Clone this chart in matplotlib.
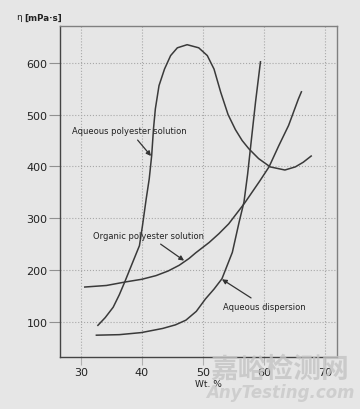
import numpy as np
import matplotlib.pyplot as plt

# Aqueous polyester solution
aps_x = [32.8, 34.0, 35.3, 36.3, 37.2, 38.5, 39.6, 40.1, 40.7, 41.2, 41.6, 41.9, 42.2, 42.8, 43.7,
         44.7, 45.8, 47.4, 49.3, 50.7, 51.8, 52.9, 54.1, 55.3, 56.4, 57.5, 59.1, 61.0, 63.4,
         65.1, 66.4, 67.7]
aps_y = [93, 108, 128, 152, 177, 215, 247, 286, 337, 376, 421, 473, 511, 556, 588,
         614, 629, 635, 629, 614, 588, 543, 500, 471, 450, 434, 415, 399, 393,
         399, 408, 420]

# Organic polyester solution
ops_x = [30.65, 34.2, 37.4, 40.0, 42.3, 44.3, 46.1, 47.7, 48.8, 51.0, 52.6, 54.2, 56.8, 59.3,
         60.8, 62.4, 64.0, 65.6, 66.1]
ops_y = [167, 170, 177, 182, 189, 198, 209, 222, 233, 253, 270, 289, 329, 372,
         399, 440, 479, 530, 544]

# Aqueous dispersion
ad_x = [32.55, 36.3, 39.9, 43.4, 45.5, 47.2, 48.9, 50.4, 51.8, 53.1, 54.8, 55.9, 56.7, 57.3,
        57.9, 58.6, 59.4]
ad_y = [74, 75, 79, 87, 94, 103, 120, 144, 163, 183, 234, 292, 331, 385,
        450, 525, 602]

x_ticks = [30, 40, 50, 60, 70]
y_ticks = [100, 200, 300, 400, 500, 600]

bg = '#e6e6e6'
line_col = '#3a3a3a'

fig = plt.figure(figsize=(3.6, 4.1), dpi=100, facecolor=bg)
ax = fig.add_axes([0.1667, 0.127, 0.769, 0.807], facecolor=bg)

ax.plot(aps_x, aps_y, color=line_col, lw=1.1)
ax.plot(ops_x, ops_y, color=line_col, lw=1.1)
ax.plot(ad_x, ad_y, color=line_col, lw=1.1)

ax.set_xlim(26.6, 71.9)
ax.set_ylim(32, 671)
ax.set_xticks(x_ticks)
ax.set_yticks(y_ticks)
ax.grid(True, color='#a8a8a8', linestyle=':', linewidth=0.8)
ax.tick_params(axis='y', length=8, width=0.8, color='#909090', labelsize=8, labelcolor='#222222', pad=1)
ax.tick_params(axis='x', length=6, width=0.8, color='#b0b0b0', labelsize=8, labelcolor='#222222', pad=1)

for s in ['left', 'bottom']:
    ax.spines[s].set_color('#444444')
    ax.spines[s].set_linewidth(1.0)
for s in ['top', 'right']:
    ax.spines[s].set_color('#808080')
    ax.spines[s].set_linewidth(1.0)

arrow = dict(arrowstyle='-|>', color='#333333', lw=0.9, mutation_scale=7, shrinkA=2, shrinkB=0)
ax.annotate('Aqueous polyester solution', xy=(41.5, 420), xytext=(38.0, 469),
            fontsize=6.0, color='#222222', ha='center', va='center', arrowprops=arrow)
ax.annotate('Organic polyester solution', xy=(46.9, 218), xytext=(41.0, 267),
            fontsize=6.0, color='#222222', ha='center', va='center', arrowprops=arrow)
ax.annotate('Aqueous dispersion', xy=(53.1, 182), xytext=(60.1, 129),
            fontsize=6.0, color='#222222', ha='center', va='center', arrowprops=arrow)

fig.text(16 / 360, 1 - 18 / 410, 'η', fontsize=6.5, color='#222222', va='center', ha='left')
fig.text(24 / 360, 1 - 18 / 410, '[mPa·s]', fontsize=6.3, fontweight='bold', color='#222222', va='center', ha='left')
fig.text(195 / 360, 1 - 385 / 410, 'Wt. %', fontsize=6.5, color='#222222', va='center', ha='left')

# watermark
fig.text(280 / 360, 1 - 370 / 410, '嘉峪检测网', fontsize=20, color='#c4c4c4', alpha=0.8,
         family=['Noto Sans CJK SC', 'DejaVu Sans'], ha='center', va='center', fontweight='bold')
fig.text(280 / 360, 1 - 393 / 410, 'AnyTesting.com', fontsize=12, color='#c8c8c8', alpha=0.8,
         style='italic', fontweight='bold', ha='center', va='center')

plt.savefig('out.png', dpi=100, facecolor=bg)
